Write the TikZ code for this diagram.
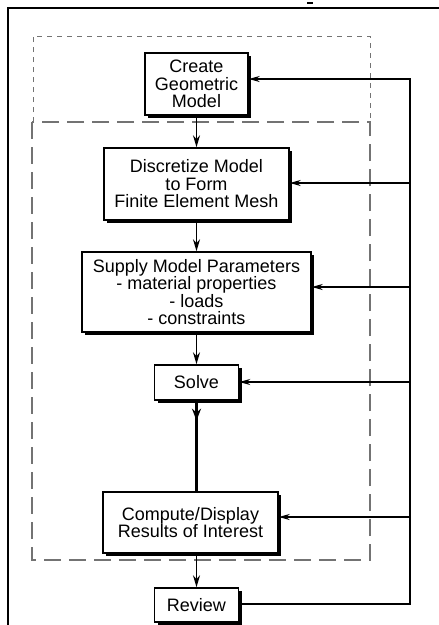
\documentclass[tikz,border=0pt]{standalone}
\usepackage{fontspec}
\setmainfont{Liberation Sans}
\usetikzlibrary{arrows.meta,decorations.markings,shadows}

\begin{document}
\begin{tikzpicture}[x=1pt,y=-1pt,>=Stealth,
    stage/.style={draw, line width=1.5pt, fill=white, align=center, inner sep=0pt,
        font=\fontsize{18}{17.5}\selectfont,
        general shadow={fill=black, shadow xshift=3pt, shadow yshift=-3pt}},
    flow/.style={-{Stealth[length=12pt,width=7pt]}, line width=1.5pt},
    feed/.style={-{Stealth[length=11pt,width=6pt]}, line width=1.3pt}]

    % --- White canvas and page size ---
    \useasboundingbox (0,0) rectangle (439,625);
    \fill[white] (0,0) rectangle (439,625);

    % --- Outer frame (open to the right and below) ---
    \draw[line width=2pt] (8,626) -- (8,8) -- (440,8);
    \draw[line width=1.2pt] (307,3) -- (313,3);

    % --- Dashed groupings ---
    \draw[black!55, line width=1pt, dash pattern=on 5pt off 5pt]
        (33,122) -- (33,36) -- (370,36) -- (370,122);
    \draw[black!55, line width=1.1pt, dash pattern=on 17pt off 8pt]
        (32,122) rectangle (370,560);

    % --- Stages ---
    \node[stage, minimum width=103pt, minimum height=62pt] (create) at (196.5,84)
        {Create\\Geometric\\Model};
    \node[stage, minimum width=185pt, minimum height=72pt] (mesh) at (196.5,184)
        {Discretize Model\\to Form\\Finite Element Mesh};
    \node[stage, minimum width=229pt, minimum height=80pt] (params) at (196.5,292)
        {Supply Model Parameters\\- material properties\\- loads\\- constraints};
    \node[stage, minimum width=84pt, minimum height=35pt] (solve) at (196.5,382.5)
        {Solve};
    \node[stage, minimum width=175pt, minimum height=61pt] (results) at (190.5,522.5)
        {Compute/Display\\Results of Interest};
    \node[stage, minimum width=84pt, minimum height=34pt] (review) at (196.5,605)
        {Review};

    % --- Main flow ---
    \draw[flow] (create.south) -- (mesh.north);
    \draw[flow] (mesh.south) -- (params.north);
    \draw[flow] (params.south) -- (solve.north);
    \draw[line width=2.8pt, postaction={decorate}, decoration={markings,
        mark=at position 0.22 with {\arrow{Stealth[length=12pt,width=9pt]}}}]
        (solve.south) -- (solve.south |- results.north);
    \draw[flow] (results.south -| review.north) -- (review.north);

    % --- Feedback loop ---
    \coordinate (fbtop) at (410,79);
    \coordinate (fbbot) at (410,604);
    \draw[feed] (review.east |- fbbot) -- (fbbot) -- (fbtop) -- (fbtop -| create.east);
    \foreach \y/\target in {183/mesh, 287/params, 382/solve, 517/results} {
        \coordinate (tap) at (410,\y);
        \draw[feed] (tap) -- (tap -| \target.east);
    }

\end{tikzpicture}
\end{document}
